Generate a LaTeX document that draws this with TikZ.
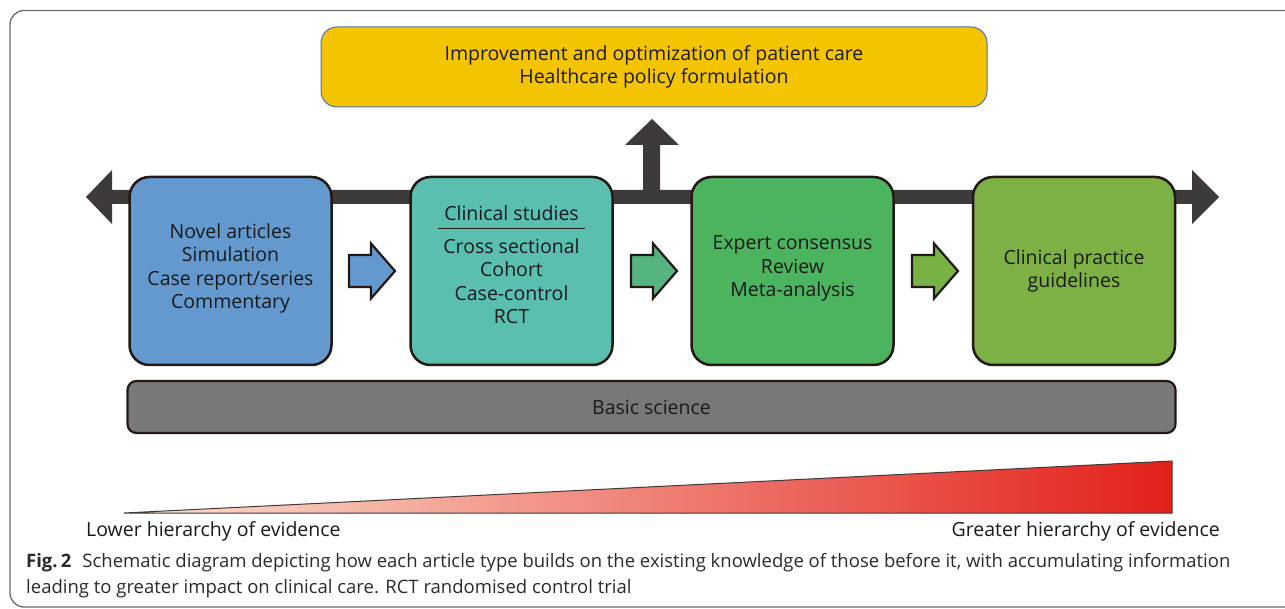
\documentclass[tikz,border=0pt]{standalone}
\usepackage{fontspec}
\setmainfont{Open Sans}
\usetikzlibrary{calc}
\definecolor{cyellow}{HTML}{F5C400}
\definecolor{cyellowb}{HTML}{4A72B0}
\definecolor{cblue}{HTML}{6499CF}
\definecolor{cteal}{HTML}{5BBFB0}
\definecolor{cgreen}{HTML}{4CB35E}
\definecolor{colive}{HTML}{7DB146}
\definecolor{carrow2}{HTML}{55B47F}
\definecolor{carrow3}{HTML}{78B144}
\definecolor{cgray}{HTML}{7A7876}
\definecolor{cdark}{HTML}{3E3A39}
\definecolor{cborder}{HTML}{231815}
\definecolor{tleft}{HTML}{FBE2D0}
\definecolor{tmid}{HTML}{F4A682}
\definecolor{tright}{HTML}{E3201B}
\definecolor{ctext}{HTML}{1A1A1A}
\definecolor{ccap}{HTML}{2B2B2B}
\definecolor{cframe}{HTML}{6B6B6B}
\tikzset{
  stage/.style={draw=cborder, line width=2.5pt, rounded corners=20pt,
    minimum width=202pt, minimum height=188pt, inner sep=0pt},
  lbl/.style={align=center, text=ctext, font=\fontsize{19.5}{23.5}\selectfont, inner sep=0pt},
  captext/.style={anchor=west, text=ccap, font=\fontsize{18.5}{20}\selectfont, inner sep=0pt},
  blockarr/.pic={\path[pic actions] (0,-16)--(22,-16)--(22,-27.5)--(46,0)--(22,27.5)--(22,16)--(0,16)--cycle;}
}
\begin{document}
\begin{tikzpicture}[x=1pt,y=-1pt]
\useasboundingbox (0,0) rectangle (1285,609);
\fill[white] (0,0) rectangle (1285,609);
% frame
\draw[cframe, line width=1.3pt, rounded corners=14pt] (10,10.5) rectangle (1310,607);
% top box
\node[draw=cyellowb, line width=1pt, fill=cyellow, rounded corners=16pt,
  minimum width=666pt, minimum height=80pt, inner sep=0pt] (top) at (654,67) {};
\node[lbl] (toptxt) at (top.center) {Improvement and optimization of patient care\\Healthcare policy formulation};
% main bar with arrows
\fill[cdark] (86,197) -- (112,170) -- (112,190) -- (643,190) -- (643,145) -- (625,145)
  -- (652,119) -- (679,145) -- (660,145) -- (660,190) -- (1192,190) -- (1192,170)
  -- (1219,197) -- (1192,224) -- (1192,204) -- (112,204) -- (112,224) -- cycle;
% stage boxes
\node[stage, fill=cblue] (b1) at (230.5,271) {};
\node[stage, fill=cteal] (b2) at (511.5,271) {};
\node[stage, fill=cgreen] (b3) at (792.5,271) {};
\node[stage, fill=colive] (b4) at (1074,271) {};
\node[lbl] (t1) at (230.5,268.5) {Novel articles\\Simulation\\Case report/series\\Commentary};
\node[lbl] (t2a) at (511.5,213) {Clinical studies};
\draw[cborder, line width=1.6pt] (438,228.5) -- (585,228.5);
\node[lbl] (t2b) at (511.5,281) {Cross sectional\\Cohort\\Case-control\\RCT};
\node[lbl] (t3) at (792.5,268.5) {Expert consensus\\Review\\Meta-analysis};
\node[lbl] (t4) at (1074,271) {Clinical practice\\guidelines};
% block arrows
\pic[fill=cblue, draw=cborder, line width=2.2pt] at (349,271) {blockarr};
\pic[fill=carrow2, draw=cborder, line width=2.2pt] at (631,271) {blockarr};
\pic[fill=carrow3, draw=cborder, line width=2.2pt] at (912,271) {blockarr};
% basic science
\node[draw=cborder, line width=2.2pt, fill=cgray, rounded corners=9pt,
  minimum width=1048pt, minimum height=52pt, inner sep=0pt] (bs) at (651.5,407) {};
\node[lbl] (bstxt) at (bs.center) {Basic science};
% gradient triangle
\shade[left color=tleft, middle color=tmid, right color=tright] (124,513) -- (1172,461) -- (1172,513) -- cycle;
\draw[cdark, line width=1pt, line join=miter] (124,513) -- (1172,461) -- (1172,513) -- cycle;
\node[lbl, anchor=west] (low) at (86,531) {Lower hierarchy of evidence};
\node[lbl, anchor=east] (high) at (1220,531) {Greater hierarchy of evidence};
% caption
\node[captext] (cap1) at (26,563) {\textbf{Fig.\,2}\hspace{0.6em}Schematic diagram depicting how each article type builds on the existing knowledge of those before it, with accumulating information};
\node[captext] (cap2) at (26,589) {leading to greater impact on clinical care. RCT randomised control trial};
\end{tikzpicture}
\end{document}
